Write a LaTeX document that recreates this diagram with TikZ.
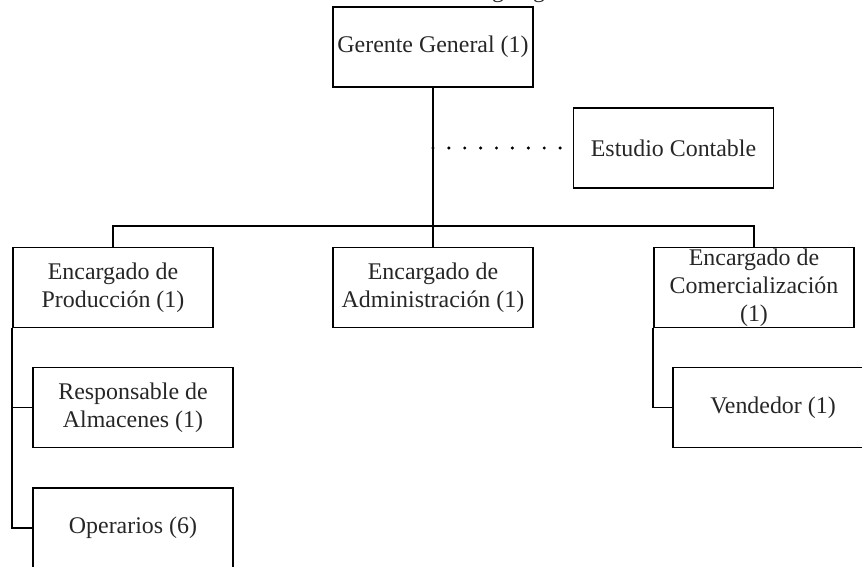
\documentclass[tikz,border=0pt]{standalone}
\usepackage{fontspec}
\setmainfont{Liberation Serif}
\usetikzlibrary{positioning, calc}

\begin{document}
\begin{tikzpicture}[%
    node distance=2cm,
    on grid,
    line width=1.2pt,
    box/.style={draw, minimum width=5cm, minimum height=2cm, inner sep=0pt,
      align=center, text=black!85, font=\fontsize{17}{19.9}\selectfont},
    dots/.style={line width=2.4pt, line cap=round, dash pattern=on 0pt off 11.3pt}
  ]
  \useasboundingbox (0,0) rectangle (21.55,-14.175);
  \node[anchor=base west, text=black!85, font=\fontsize{17}{19.9}\selectfont] at (8.175,0.05) (title) {Ilustración 1: Organigrama};

  \node[box] at (10.825,-1.175) (gg) {Gerente General (1)};
  \node[box, below right = 2.525 and 6.0125 of gg] (ec) {Estudio Contable};

  \node[box, below = 6.0125 of gg] (ea) {Encargado de\\Administración (1)};
  \node[box, left = 8 of ea] (ep) {Encargado de\\Producción (1)};
  \node[box, right = 8.025 of ea] (eco) {Encargado de\\Comercialización\\(1)};

  \node[box, below right = 3 and 0.5 of ep] (ra) {Responsable de\\Almacenes (1)};
  \node[box, below = 3.01 of ra] (op) {Operarios (6)};
  \node[box, below right = 3 and 0.475 of eco] (ve) {Vendedor (1)};

  \coordinate (bus) at ($(gg.south)!0.87!(ea.north)$);
  \draw (gg.south) -- (ea.north);
  \draw (ep.north) |- (bus) -| (eco.north);
  \draw[dots] (gg.south |- ec.west) -- (ec.west);
  \draw (ep.south west) |- (ra.west);
  \draw (ep.south west) |- (op.west);
  \draw (eco.south west) |- (ve.west);
\end{tikzpicture}
\end{document}
